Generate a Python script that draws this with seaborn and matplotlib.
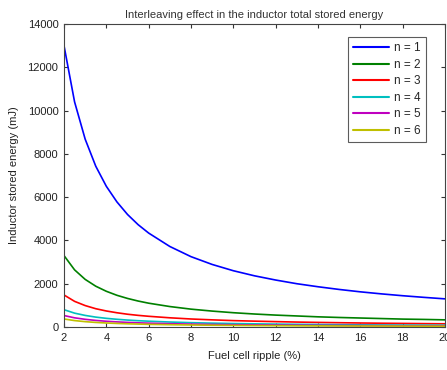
import numpy as np
import pandas as pd
import matplotlib
matplotlib.use("Agg")
from matplotlib import pyplot as plt
import seaborn as sns

# fuel cell ripple (%)
ripple = [2, 2.5, 3, 3.5, 4, 4.5, 5, 5.5, 6, 7, 8, 9, 10, 11, 12, 13, 14, 15, 16, 17, 18, 19, 20]

# inductor stored energy (mJ)
energy_n1 = [13000, 10400, 8680, 7430, 6500, 5780, 5200, 4730, 4340, 3720, 3250, 2890, 2600, 2365, 2170, 2000, 1860, 1735, 1625, 1530, 1445, 1370, 1300]
energy_n2 = [3300, 2640, 2200, 1885, 1650, 1465, 1320, 1200, 1100, 945, 825, 735, 660, 600, 550, 510, 470, 440, 415, 390, 365, 350, 330]
energy_n3 = [1480, 1185, 990, 845, 740, 658, 590, 538, 495, 425, 370, 330, 295, 270, 248, 228, 212, 198, 185, 174, 165, 156, 148]
energy_n4 = [800, 640, 535, 457, 400, 356, 320, 291, 268, 230, 200, 178, 160, 146, 134, 124, 115, 107, 100, 94, 89, 84, 80]
energy_n5 = [530, 424, 355, 303, 265, 236, 212, 193, 177, 152, 133, 118, 106, 97, 89, 82, 76, 71, 66, 62, 59, 56, 53]
energy_n6 = [370, 296, 247, 211, 185, 164, 148, 135, 123, 106, 93, 82, 74, 67, 62, 57, 53, 49, 46, 44, 41, 39, 37]

labels = ['n = 1', 'n = 2', 'n = 3', 'n = 4', 'n = 5', 'n = 6']
colors = ['#0000ff', '#008000', '#ff0000', '#00bfbf', '#bf00bf', '#bfbf00']

series = [energy_n1, energy_n2, energy_n3, energy_n4, energy_n5, energy_n6]
df = pd.concat([pd.DataFrame({'ripple': ripple, 'energy': vals, 'n': lab})
                for lab, vals in zip(labels, series)], ignore_index=True)

sns.set_style('ticks')
plt.rcParams['font.family'] = ['Liberation Sans', 'DejaVu Sans']

fig = plt.figure(figsize=(4.47, 3.70), dpi=100)
ax = fig.add_axes([64 / 447, 1 - 327 / 370, (445 - 64) / 447, (327 - 24) / 370])

sns.lineplot(data=df, x='ripple', y='energy', hue='n', palette=colors,
             linewidth=1.2, ax=ax)

ax.set_xlim(2, 20)
ax.set_ylim(0, 14000)
ax.set_xticks(range(2, 21, 2))
ax.set_yticks(range(0, 14001, 2000))
ax.tick_params(direction='in', top=True, right=True, labelsize=8, length=3,
               width=0.8, colors='#333333', labelcolor='#222222', pad=4)
for s in ax.spines.values():
    s.set_visible(True)
    s.set_color('#444444')
    s.set_linewidth(0.8)

ax.set_title('Interleaving effect in the inductor total stored energy',
             fontsize=8, color='#333333', pad=4)
ax.set_xlabel('Fuel cell ripple (%)', fontsize=8, color='#222222', labelpad=6)
ax.set_ylabel('Inductor stored energy (mJ)', fontsize=8, color='#222222', labelpad=6)

leg = ax.legend(loc='upper left', bbox_to_anchor=(0.745, 0.957), fontsize=8.5,
                frameon=True, fancybox=False, edgecolor='#333333',
                handlelength=3.0, handletextpad=0.5, borderpad=0.45,
                labelspacing=0.38, borderaxespad=0)
leg.get_frame().set_linewidth(0.8)
for line in leg.get_lines():
    line.set_linewidth(1.5)

fig.savefig('out.png', dpi=100)
